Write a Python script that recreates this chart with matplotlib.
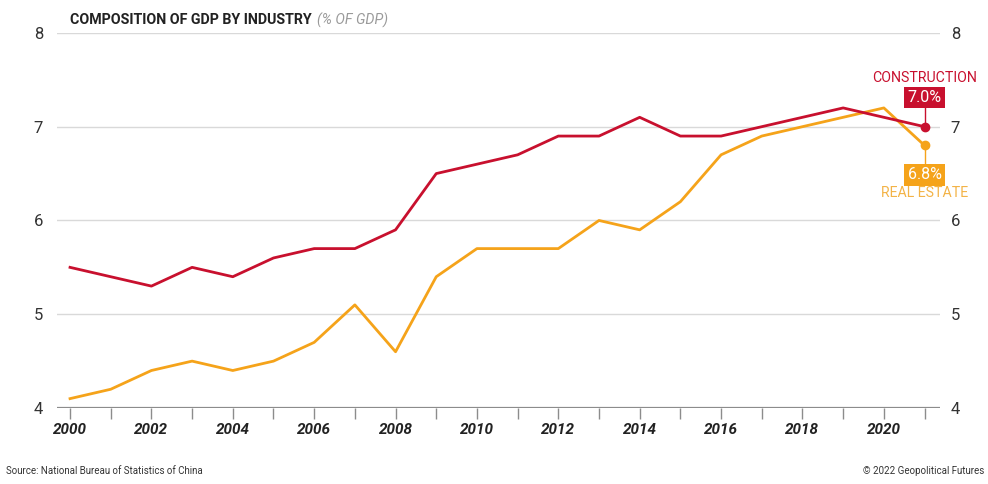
import matplotlib.pyplot as plt

# share of GDP, 2000-2021
years = list(range(2000, 2022))
construction = [5.5, 5.4, 5.3, 5.5, 5.4, 5.6, 5.7, 5.7, 5.9, 6.5, 6.6,
                6.7, 6.9, 6.9, 7.1, 6.9, 6.9, 7.0, 7.1, 7.2, 7.1, 7.0]
real_estate = [4.1, 4.2, 4.4, 4.5, 4.4, 4.5, 4.7, 5.1, 4.6, 5.4, 5.7,
               5.7, 5.7, 6.0, 5.9, 6.2, 6.7, 6.9, 7.0, 7.1, 7.2, 6.8]
y_ticks = [4, 5, 6, 7, 8]

RED = '#c8102e'
ORANGE = '#f5a31a'
ORANGE_TEXT = '#f3b347'
GRID = '#d9d9d9'
AXIS = '#8c8c8c'
TEXT = '#333333'

plt.rcParams['font.family'] = ['Roboto', 'DejaVu Sans']

fig = plt.figure(figsize=(9.88, 4.84), dpi=100)
ax = fig.add_axes([0.0577, 0.157, 0.8933, 0.775])

ax.set_xlim(1999.68, 2021.37)
ax.set_ylim(4, 8)

for v in y_ticks[1:]:
    ax.axhline(v, color=GRID, lw=1.0, zorder=1)
ax.axhline(4, color=AXIS, lw=1.6, zorder=2)

ax.plot(years, real_estate, color=ORANGE, lw=2.0, zorder=3)
ax.plot(years, construction, color=RED, lw=2.0, zorder=4)

# end points
ax.plot(years[-1], construction[-1], 'o', color=RED, ms=6, zorder=5)
ax.plot(years[-1], real_estate[-1], 'o', color=ORANGE, ms=6, zorder=5)

for s in ax.spines.values():
    s.set_visible(False)

ax.set_xticks(years)
ax.set_xticklabels([str(y) if y % 2 == 0 else '' for y in years],
                   fontsize=11, fontweight='bold', fontstyle='italic', color='#222222')
ax.tick_params(axis='x', length=8, width=1.0, color=AXIS, pad=3)
ax.set_yticks(y_ticks)
ax.set_yticklabels([str(v) for v in y_ticks], fontsize=12, color=TEXT)
ax.tick_params(axis='y', length=0, pad=10)

ax2 = ax.twinx()
ax2.set_ylim(ax.get_ylim())
ax2.set_yticks(y_ticks)
ax2.set_yticklabels([str(v) for v in y_ticks], fontsize=12, color=TEXT)
ax2.tick_params(axis='y', length=0, pad=8)
for s in ax2.spines.values():
    s.set_visible(False)

# end labels with connector lines
x_end = years[-1]
ax.plot([x_end, x_end], [construction[-1], 7.2], color=RED, lw=1.0, zorder=4)
ax.text(x_end, 7.31, f'{construction[-1]:.1f}%', ha='center', va='center', fontsize=11.5,
        color='white', zorder=6,
        bbox=dict(boxstyle='square,pad=0.2', fc=RED, ec='none'))
ax.text(x_end, 7.52, 'CONSTRUCTION', ha='center', va='center', fontsize=10.2, color=RED)

ax.plot([x_end, x_end], [real_estate[-1], 6.59], color=ORANGE, lw=1.0, zorder=4)
ax.text(x_end, 6.485, f'{real_estate[-1]:.1f}%', ha='center', va='center', fontsize=11.5,
        color='white', zorder=6,
        bbox=dict(boxstyle='square,pad=0.2', fc=ORANGE, ec='none'))
ax.text(x_end, 6.29, 'REAL ESTATE', ha='center', va='center', fontsize=10.2, color=ORANGE_TEXT)

# title, unit note placed right after it
title = fig.text(0.071, 0.958, 'COMPOSITION OF GDP BY INDUSTRY', fontsize=10.3,
                 fontweight='bold', color='#222222', ha='left', va='center')
ax.annotate('(% OF GDP)', xy=(1, 0.5), xycoords=title, xytext=(4, 0),
            textcoords='offset points', fontsize=10.3, fontstyle='italic',
            color='#9a9a9a', ha='left', va='center', annotation_clip=False)

fig.text(0.006, 0.016, 'Source: National Bureau of Statistics of China', fontsize=7,
         color=TEXT, ha='left', va='bottom')
fig.text(0.996, 0.016, '© 2022 Geopolitical Futures', fontsize=7,
         color=TEXT, ha='right', va='bottom')

fig.savefig('out.png', dpi=100, facecolor='white')
